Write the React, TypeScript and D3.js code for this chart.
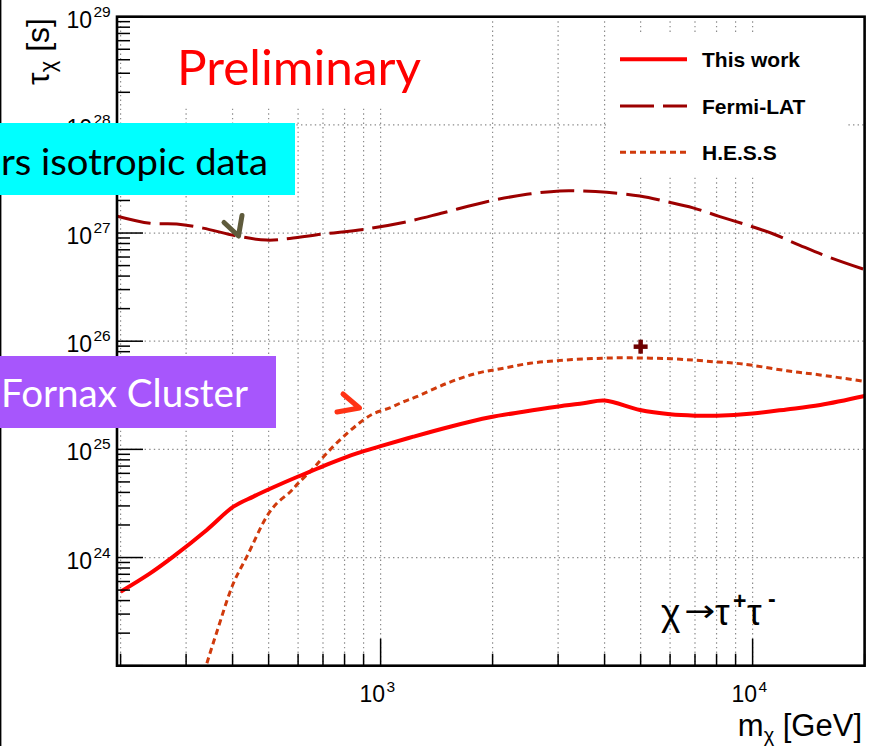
import React from 'react';
import * as d3 from 'd3';

// ---- data (mass in GeV, lifetime in s) ----
const thisWorkMass = [200, 240, 277, 341, 402, 455, 515, 598, 646, 731, 863, 1000, 1225, 1537, 1968, 2421, 2972, 3508, 4000, 4980, 6000, 7000, 8000, 10000, 12350, 15200, 20000];
const thisWorkTau = [4.83e23, 7.14e23, 1.02e24, 1.8e24, 2.95e24, 3.66e24, 4.46e24, 5.58e24, 6.22e24, 7.43e24, 9.2e24, 1.07e25, 1.31e25, 1.62e25, 1.98e25, 2.23e25, 2.48e25, 2.67e25, 2.83e25, 2.31e25, 2.11e25, 2.05e25, 2.05e25, 2.15e25, 2.34e25, 2.57e25, 3.11e25];

const fermiMass = [196, 240, 283, 333, 410, 494, 570, 702, 899, 1151, 1474, 1928, 2472, 3034, 3436, 4055, 4977, 5875, 6918, 8166, 9638, 11376, 13397, 15812, 20000];
const fermiTau = [1.43e27, 1.23e27, 1.21e27, 1.11e27, 9.4e26, 8.6e26, 8.9e26, 9.8e26, 1.08e27, 1.25e27, 1.54e27, 1.95e27, 2.28e27, 2.45e27, 2.45e27, 2.38e27, 2.2e27, 1.95e27, 1.71e27, 1.42e27, 1.19e27, 9.8e26, 7.7e26, 6.1e26, 4.6e26];

const hessMass = [330, 340, 363, 402, 437, 494, 526, 572, 600, 659, 716, 794, 899, 960, 1059, 1150, 1250, 1507, 1811, 2138, 2521, 2972, 3508, 4140, 4977, 6000, 7000, 8010, 9010, 10000, 12350, 15170, 20000];
const hessTau = [7.0e22, 1.01e23, 2.06e23, 5.78e23, 1.02e24, 2.39e24, 3.17e24, 4.06e24, 4.85e24, 6.68e24, 9.2e24, 1.31e25, 1.87e25, 2.15e25, 2.42e25, 2.75e25, 3.07e25, 4.08e25, 5.05e25, 5.62e25, 6.25e25, 6.61e25, 6.84e25, 7.0e25, 7.0e25, 6.89e25, 6.67e25, 6.43e25, 6.25e25, 5.98e25, 5.33e25, 4.88e25, 4.25e25];

const markerMass = [5000];
const markerTau = [8.9e25];

const xDomain = [195.6, 20000];
const yDomain = [1e23, 1e29];
const xTickLabelExps = [3, 4];
const yTickLabelExps = [24, 25, 26, 27, 28, 29];
const legendLabels = ['This work', 'Fermi-LAT', 'H.E.S.S'];

const W = 875;
const H = 746;
const L = 117, R = 864.6, T = 16.7, B = 665.7;

const SANS = "'Liberation Sans', Arial, Helvetica, sans-serif";
const SLIDE = "Lato, 'Open Sans', sans-serif";

export default function App() {
  const x = d3.scaleLog().domain(xDomain).range([L, R]);
  const y = d3.scaleLog().domain(yDomain).range([B, T]);
  const line = d3
    .line<[number, number]>()
    .x((d) => x(d[0]))
    .y((d) => y(d[1]))
    .curve(d3.curveCatmullRom.alpha(0.5));

  const zip = (a: number[], b: number[]) => a.map((v, i) => [v, b[i]] as [number, number]);

  // tick positions
  const xTicks: { v: number; major: boolean }[] = [];
  for (let e = 2; e <= 4; e++) {
    for (let m = 1; m <= 9; m++) {
      const v = m * Math.pow(10, e);
      if (v >= 200 && v <= 20000) xTicks.push({ v, major: m === 1 });
    }
  }
  const yTicks: { v: number; major: boolean }[] = [];
  for (let e = 23; e <= 29; e++) {
    for (let m = 1; m <= 9; m++) {
      const v = m * Math.pow(10, e);
      if (v >= 1e23 && v <= 1e29) yTicks.push({ v, major: m === 1 });
    }
  }

  const gridStyle = { stroke: '#8c8c8c', strokeWidth: 1.2, strokeDasharray: '1.4 3.2' };

  const legendY = [59.3, 106, 152.3];
  const legendStyles = [
    { stroke: '#ff0000', strokeWidth: 4, dash: undefined as string | undefined },
    { stroke: '#9c0000', strokeWidth: 3, dash: '34 9' },
    { stroke: '#d03a0c', strokeWidth: 3, dash: '6 4' },
  ];

  return (
    <svg width={W} height={H} style={{ position: 'absolute', left: 0, top: 0, background: '#fff' }}>
      <rect x={0} y={0} width={W} height={H} fill="#fff" />
      <defs>
        <clipPath id="plot">
          <rect x={L} y={T} width={R - L} height={B - T} />
        </clipPath>
      </defs>

      {/* grid */}
      {xTicks.map((t, i) => (
        <line key={'gx' + i} x1={x(t.v)} x2={x(t.v)} y1={T} y2={B} {...gridStyle} />
      ))}
      {yTicks
        .filter((t) => t.major)
        .map((t, i) => (
          <line key={'gy' + i} x1={L} x2={R} y1={y(t.v)} y2={y(t.v)} {...gridStyle} />
        ))}

      {/* white pads behind Preliminary and legend */}
      <rect x={135} y={19} width={335} height={87} fill="#fff" />
      <rect x={607} y={35} width={241} height={140} fill="#fff" />

      {/* curves */}
      <g clipPath="url(#plot)" fill="none">
        <path d={line(zip(hessMass, hessTau)) || ''} stroke="#d03a0c" strokeWidth={3} strokeDasharray="6 4" />
        <path d={line(zip(fermiMass, fermiTau)) || ''} stroke="#9c0000" strokeWidth={3} strokeDasharray="34 9" />
        <path d={line(zip(thisWorkMass, thisWorkTau)) || ''} stroke="#ff0000" strokeWidth={4} strokeLinejoin="round" />
      </g>

      {/* marker */}
      {markerMass.map((m, i) => (
        <g key={'mk' + i} stroke="#6e0000" strokeWidth={4.5}>
          <line x1={x(m) - 7} x2={x(m) + 7} y1={y(markerTau[i])} y2={y(markerTau[i])} />
          <line x1={x(m)} x2={x(m)} y1={y(markerTau[i]) - 7} y2={y(markerTau[i]) + 7} />
        </g>
      ))}

      {/* ticks */}
      {yTicks.map((t, i) => (
        <line key={'ty' + i} x1={L} x2={L + (t.major ? 26 : 13)} y1={y(t.v)} y2={y(t.v)} stroke="#000" strokeWidth={1.5} />
      ))}
      {xTicks.map((t, i) => (
        <line key={'tx' + i} x1={x(t.v)} x2={x(t.v)} y1={B} y2={B - (t.major ? 27 : 12)} stroke="#000" strokeWidth={1.5} />
      ))}

      {/* frame */}
      <rect x={L} y={T} width={R - L} height={B - T} fill="none" stroke="#000" strokeWidth={2.6} />

      {/* y tick labels */}
      {yTickLabelExps.map((e) => {
        const yy = y(Math.pow(10, e));
        return (
          <g key={'yl' + e} fontFamily={SANS} fill="#000">
            <text x={92} y={yy + 11} fontSize={23} textAnchor="end">10</text>
            <text x={93.5} y={yy} fontSize={15.5}>{e}</text>
          </g>
        );
      })}

      {/* x tick labels */}
      {xTickLabelExps.map((e) => {
        const xx = x(Math.pow(10, e));
        return (
          <g key={'xl' + e} fontFamily={SANS} fill="#000">
            <text x={xx + 4.5} y={702} fontSize={23} textAnchor="end">10</text>
            <text x={xx + 6} y={692} fontSize={15.5}>{e}</text>
          </g>
        );
      })}

      {/* axis titles */}
      <text x={862} y={736} fontFamily={SANS} fontSize={31} textAnchor="end" fill="#000">
        m<tspan dy={6} fontSize={20}>χ</tspan>
        <tspan dy={-6}> [GeV]</tspan>
      </text>
      <text transform="translate(49,18) rotate(-90)" fontFamily={SANS} fontSize={32} textAnchor="end" fill="#000">
        τ<tspan dy={6} fontSize={22}>χ</tspan>
        <tspan dy={-6}> [s]</tspan>
      </text>

      {/* legend */}
      {legendLabels.map((lab, i) => (
        <g key={'lg' + i}>
          <line
            x1={620}
            x2={687}
            y1={legendY[i]}
            y2={legendY[i]}
            stroke={legendStyles[i].stroke}
            strokeWidth={legendStyles[i].strokeWidth}
            strokeDasharray={legendStyles[i].dash}
          />
          <text x={702} y={legendY[i] + 7.5} fontFamily={SANS} fontWeight="bold" fontSize={21} fill="#000">
            {lab}
          </text>
        </g>
      ))}

      {/* process label */}
      <g fontFamily={SANS} fill="#000">
        <text x={661} y={625} fontSize={37}>χ</text>
        <text x={684} y={621} fontSize={30} textLength={31} lengthAdjust="spacingAndGlyphs" fontFamily="'DejaVu Sans', sans-serif">→</text>
        <text x={715} y={625} fontSize={37}>τ</text>
        <text x={733} y={609} fontSize={23} fontWeight="bold">+</text>
        <text x={747} y={625} fontSize={37}>τ</text>
        <text x={768} y={607} fontSize={23} fontWeight="bold">-</text>
      </g>

      {/* Preliminary */}
      <text x={177} y={85} fontFamily={SLIDE} fontSize={48} fill="#ff0000" textLength={244} lengthAdjust="spacingAndGlyphs">
        Preliminary
      </text>

      {/* slide overlays */}
      <rect x={0} y={0} width={1.4} height={H} fill="#000" />
      <rect x={0} y={123} width={295} height={72} fill="#00ffff" />
      <text x={1} y={175} fontFamily={SLIDE} fontSize={37} fill="#000" textLength={267} lengthAdjust="spacingAndGlyphs">
        rs isotropic data
      </text>
      <rect x={0} y={356} width={276} height={72} fill="#a756fc" />
      <text x={1} y={407} fontFamily={SLIDE} fontSize={39} fill="#fff" textLength={247} lengthAdjust="spacingAndGlyphs">
        Fornax Cluster
      </text>

      {/* hand-drawn arrows */}
      <path d="M224,222.5 L238.5,236 L242,215.5" fill="none" stroke="#5f5b3c" strokeWidth={5} strokeLinecap="round" strokeLinejoin="round" />
      <path d="M337,412 L359.5,408 L343,394" fill="none" stroke="#ff3214" strokeWidth={5} strokeLinecap="round" strokeLinejoin="round" />
    </svg>
  );
}
